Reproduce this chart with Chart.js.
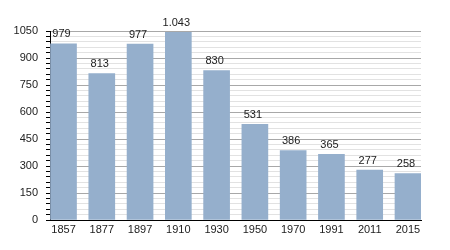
<!DOCTYPE html>
<html>
<head>
<meta charset="utf-8">
<script src="https://cdn.jsdelivr.net/npm/chart.js@4"></script>
<style>
html,body{margin:0;padding:0;background:#fff;}
#wrap{width:450px;height:250px;}
</style>
</head>
<body>
<div id="wrap"><canvas id="c" width="450" height="250"></canvas></div>
<script>
const years = ['1857','1877','1897','1910','1930','1950','1970','1991','2011','2015'];
const population = [979, 813, 977, 1043, 830, 531, 386, 365, 277, 258];
const yTickStep = 30;
const yLabelStep = 150;
const yMax = 1050;

function fmt(v){
  return v >= 1000 ? Math.floor(v/1000) + '.' + String(v%1000).padStart(3,'0') : String(v);
}

const valueLabels = {
  id:'valueLabels',
  afterDatasetsDraw(chart){
    const ctx = chart.ctx;
    const meta = chart.getDatasetMeta(0);
    ctx.save();
    ctx.font = '11px "Liberation Sans", Arial, sans-serif';
    ctx.fillStyle = '#222';
    ctx.textAlign = 'center';
    ctx.textBaseline = 'bottom';
    meta.data.forEach((bar,i)=>{
      ctx.fillText(fmt(population[i]), bar.x - 2, bar.y - 4);
    });
    ctx.restore();
  }
};

new Chart(document.getElementById('c'), {
  type:'bar',
  data:{
    datasets:[{
      data: population.map((v,i)=>({x:i, y:v})),
      backgroundColor:'#95afcc',
      borderWidth:0,
      barThickness:26
    }]
  },
  options:{
    responsive:false,
    animation:false,
    devicePixelRatio:1,
    layout:{padding:{top:31,right:29,left:0,bottom:0}},
    plugins:{legend:{display:false},tooltip:{enabled:false}},
    scales:{
      x:{
        type:'linear',
        offset:false,
        min:-0.353,
        max:9.34,
        afterBuildTicks(s){ s.ticks = years.map((_,i)=>({value:i})); },
        afterFit(s){ s.height = 30; },
        grid:{display:false, drawTicks:false},
        border:{display:true,color:'#000',width:1},
        ticks:{
          autoSkip:false,
          maxRotation:0,
          padding:3,
          color:'#222',
          font:{family:'"Liberation Sans", Arial, sans-serif',size:11},
          callback:(v)=>years[v] !== undefined ? years[v] : ''
        }
      },
      y:{
        min:0,
        max:yMax,
        afterFit(s){ s.width = 50; },
        border:{display:true,color:'#000',width:1},
        grid:{
          color:(c)=> (c.tick && c.tick.value % yLabelStep === 0) ? '#a8a8a8' : '#e2e2e2',
          tickColor:'#000',
          tickLength:4,
          lineWidth:1
        },
        ticks:{
          stepSize:yTickStep,
          autoSkip:false,
          padding:8,
          color:'#222',
          font:{family:'"Liberation Sans", Arial, sans-serif',size:11},
          callback:(v)=> v % yLabelStep === 0 ? String(v) : ''
        }
      }
    }
  },
  plugins:[valueLabels]
});
</script>
</body>
</html>
